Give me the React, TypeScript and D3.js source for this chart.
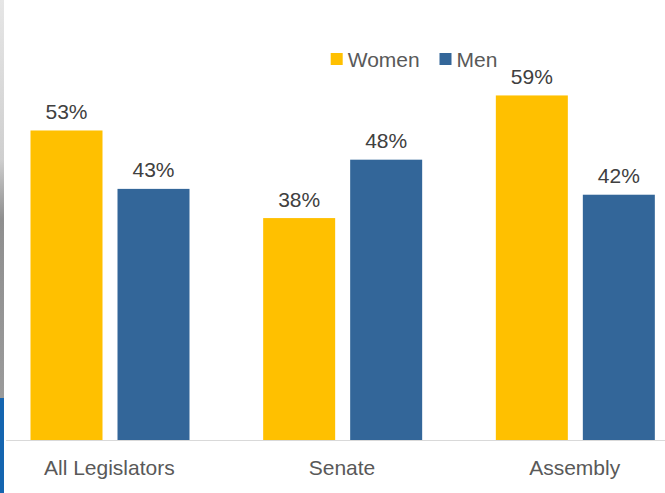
import React from "react";
import * as d3 from "d3";

const categories = ["All Legislators", "Senate", "Assembly"];
const seriesNames = ["Women", "Men"];
const women = [53, 38, 59];
const men = [43, 48, 42];
const colors = ["#FFC000", "#336699"];

const W = 665;
const H = 493;

export default function App() {
  const x0 = d3.scaleBand<string>().domain(categories).range([-7, 691]).paddingInner(0).paddingOuter(0);
  const x1 = d3.scaleBand<string>().domain(seriesNames).range([37.5, 37.5 + 159]).paddingInner(0.1724).paddingOuter(0);
  const y = d3.scaleLinear().domain([0, 60]).range([440, 89.6]);
  const series = [women, men];
  const font = "'Liberation Sans', Arial, sans-serif";

  return (
    <svg width={W} height={H} style={{ position: "absolute", left: 0, top: 0, background: "#fff" }} fontFamily={font}>
      <defs>
        <linearGradient id="edge" x1="0" y1="0" x2="0" y2="1">
          <stop offset="0" stopColor="#e6e6e6" />
          <stop offset="0.4" stopColor="#cfcfcf" />
          <stop offset="0.55" stopColor="#8f8f8f" />
          <stop offset="1" stopColor="#9a9a9a" />
        </linearGradient>
      </defs>
      <rect x={0} y={0} width={4} height={398} fill="url(#edge)" />
      <rect x={0} y={398} width={4} height={95} fill="#1565b0" />
      <line x1={6} x2={W} y1={440.5} y2={440.5} stroke="#d9d9d9" strokeWidth={1} />
      {categories.map((c, i) => (
        <g key={c} transform={`translate(${x0(c)},0)`}>
          {seriesNames.map((s, j) => {
            const v = series[j][i];
            const bx = x1(s)!;
            return (
              <g key={s}>
                <rect x={bx} y={y(v)} width={x1.bandwidth()} height={y(0) - y(v)} fill={colors[j]} />
                <text x={bx + x1.bandwidth() / 2} y={y(v) - 11.5} textAnchor="middle" fontSize={21} fill="#404040">
                  {v}%
                </text>
              </g>
            );
          })}
          <text x={x0.bandwidth() / 2} y={474.5} textAnchor="middle" fontSize={21} fill="#595959">
            {c}
          </text>
        </g>
      ))}
      <g>
        {seriesNames.map((s, j) => {
          const lx = [330.7, 439.5][j];
          return (
            <g key={s}>
              <rect x={lx} y={53} width={12} height={12} fill={colors[j]} />
              <text x={lx + 17} y={66.7} fontSize={21} fill="#595959">
                {s}
              </text>
            </g>
          );
        })}
      </g>
    </svg>
  );
}
